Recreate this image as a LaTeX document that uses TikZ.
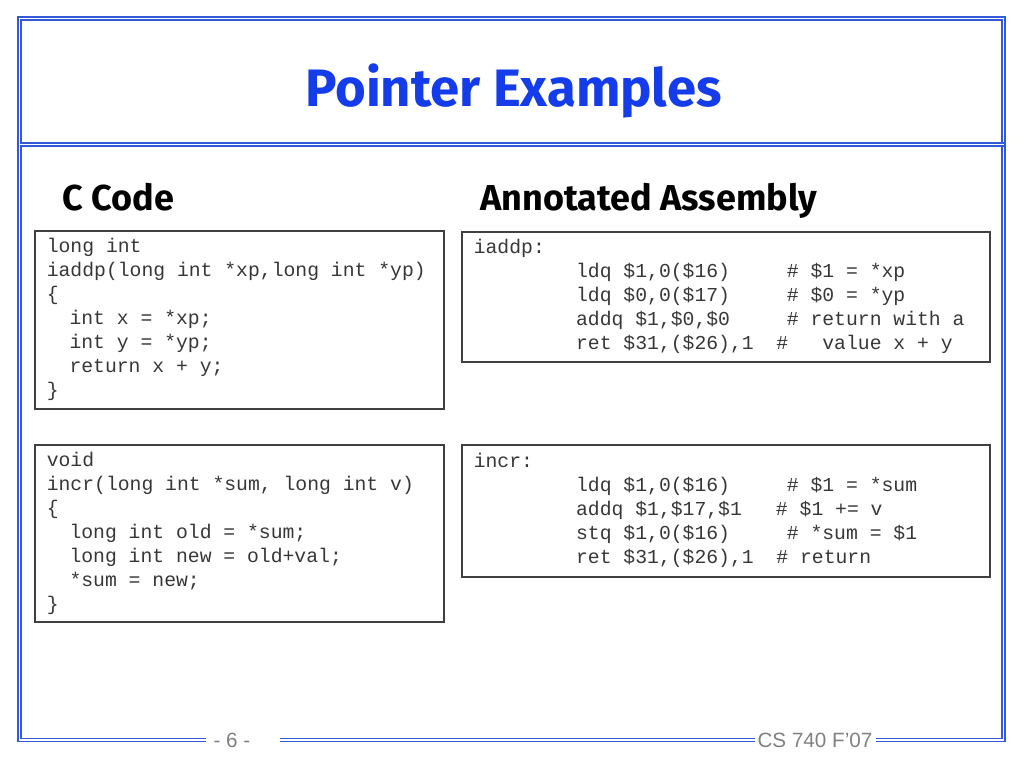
\documentclass[tikz,border=0pt]{standalone}
\usepackage{fontspec}
\setmainfont{Liberation Sans}
\setmonofont{Liberation Mono}
\newfontfamily\headfont{Fira Sans}
\usetikzlibrary{positioning}

\definecolor{frameblue}{RGB}{50,90,215}
\definecolor{titleblue}{RGB}{20,60,235}
\definecolor{codegray}{RGB}{55,55,55}
\definecolor{boxgray}{RGB}{64,64,64}
\definecolor{footgray}{RGB}{128,128,128}

% blank columns in the monospaced code
\newcommand\skipcols[1]{\hspace*{\dimexpr#1\fontcharwd\font`x*96/100\relax}}
\newcommand\monospaces{\spaceskip=\fontcharwd\font`x\relax\xspaceskip=\spaceskip}

\tikzset{
  frameline/.style={draw=frameblue, line width=0.9pt, double=white, double distance=1.3pt},
  codebox/.style={draw=boxgray, line width=1.2pt, anchor=north west, align=left,
    inner xsep=9pt, inner ysep=0pt, text=codegray,
    font=\ttfamily\fontsize{14.8}{18}\selectfont,
    execute at begin node=\monospaces},
  heading/.style={anchor=base west, inner sep=0pt, font=\headfont\bfseries\fontsize{27}{32}\selectfont},
  foottext/.style={anchor=base, inner sep=0pt, text=footgray, font=\fontsize{15.5}{18}\selectfont}
}

\begin{document}
\begin{tikzpicture}[x=0.75pt, y=-0.75pt]
  \useasboundingbox (0,0) rectangle (1024,768);

  % slide frame, broken at the bottom for the footer
  \draw[frameline] (206,740) -- (19.5,740) -- (19.5,18.5) -- (1003.5,18.5) -- (1003.5,740) -- (876,740);
  \draw[frameline] (280,740) -- (755,740);
  \draw[frameline] (19.5,144.5) -- (1003.5,144.5);

  % title
  \node[anchor=base, inner sep=0pt, text=titleblue, font=\headfont\bfseries\fontsize{39.5}{44}\selectfont]
    (title) at (513.5,106) {Pointer Examples};

  % column headings
  \node[heading] (chead) at (62,210) {C Code};
  \node[heading] (asmhead) at (480,210) {Annotated Assembly};

  % C code
  \node[codebox, text width=288.75pt, minimum height=133.5pt] (iaddpc) at (34,230) {%
    long int\\
    iaddp(long int *xp,long int *yp)\\
    \{\\
    \skipcols{2}int x = *xp;\\
    \skipcols{2}int y = *yp;\\
    \skipcols{2}return x + y;\\
    \}};
  \node[codebox, text width=288.75pt, minimum height=132.75pt] (incrc) at (34,444) {%
    void\\
    incr(long int *sum, long int v)\\
    \{\\
    \skipcols{2}long int old = *sum;\\
    \skipcols{2}long int new = old+val;\\
    \skipcols{2}*sum = new;\\
    \}};

  % assembly
  \node[codebox, text width=378pt, minimum height=97.5pt] (iaddpasm) at (461,231) {%
    iaddp:\\
    \skipcols{9}ldq \$1,0(\$16)\skipcols{5}\# \$1 = *xp\\
    \skipcols{9}ldq \$0,0(\$17)\skipcols{5}\# \$0 = *yp\\
    \skipcols{9}addq \$1,\$0,\$0\skipcols{5}\# return with a\\
    \skipcols{9}ret \$31,(\$26),1\skipcols{2}\#\skipcols{3}value x + y};
  \node[codebox, text width=378pt, minimum height=99pt] (incrasm) at (461,444) {%
    incr:\\
    \skipcols{9}ldq \$1,0(\$16)\skipcols{5}\# \$1 = *sum\\
    \skipcols{9}addq \$1,\$17,\$1\skipcols{3}\# \$1 += v\\
    \skipcols{9}stq \$1,0(\$16)\skipcols{5}\# *sum = \$1\\
    \skipcols{9}ret \$31,(\$26),1\skipcols{2}\# return};

  % footer
  \node[foottext] (pagenum) at (232,747) {- 6 -};
  \node[foottext] (course) at (815,747) {CS 740 F'07};
\end{tikzpicture}
\end{document}
